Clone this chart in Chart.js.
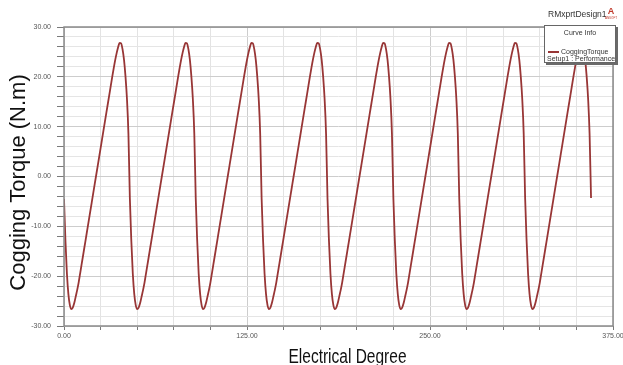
<!DOCTYPE html>
<html>
<head>
<meta charset="utf-8">
<script src="https://cdn.jsdelivr.net/npm/chart.js@4/dist/chart.umd.min.js"></script>
<style>
  html, body { margin: 0; padding: 0; background: #fff; }
  canvas { display: block; }
</style>
</head>
<body>
<canvas id="chart" width="623" height="365"></canvas>
<script>
// 电角度 0..360，每 1° 一个采样
const DEG_STEP = 1;

// 齿槽转矩 (N.m)，按图读取，每行一个 45° 周期
const torque = [
  -4.5, -13.0, -19.5, -23.6, -25.8, -26.6, -26.3, -25.4, -24.1, -22.8, -21.3, -19.5, -17.7, -15.9, -14.1, -12.3, -10.5, -8.7, -6.9, -5.1, -3.3, -1.5, 0.3, 2.1, 3.9, 5.7, 7.5, 9.3, 11.1, 12.9, 14.7, 16.5, 18.3, 20.1, 21.8, 23.4, 24.8, 26.0, 26.8, 26.7, 25.5, 23.4, 20.1, 15.6, 8.6,
  -4.5, -13.0, -19.5, -23.6, -25.8, -26.6, -26.3, -25.4, -24.1, -22.8, -21.3, -19.5, -17.7, -15.9, -14.1, -12.3, -10.5, -8.7, -6.9, -5.1, -3.3, -1.5, 0.3, 2.1, 3.9, 5.7, 7.5, 9.3, 11.1, 12.9, 14.7, 16.5, 18.3, 20.1, 21.8, 23.4, 24.8, 26.0, 26.8, 26.7, 25.5, 23.4, 20.1, 15.6, 8.6,
  -4.5, -13.0, -19.5, -23.6, -25.8, -26.6, -26.3, -25.4, -24.1, -22.8, -21.3, -19.5, -17.7, -15.9, -14.1, -12.3, -10.5, -8.7, -6.9, -5.1, -3.3, -1.5, 0.3, 2.1, 3.9, 5.7, 7.5, 9.3, 11.1, 12.9, 14.7, 16.5, 18.3, 20.1, 21.8, 23.4, 24.8, 26.0, 26.8, 26.7, 25.5, 23.4, 20.1, 15.6, 8.6,
  -4.5, -13.0, -19.5, -23.6, -25.8, -26.6, -26.3, -25.4, -24.1, -22.8, -21.3, -19.5, -17.7, -15.9, -14.1, -12.3, -10.5, -8.7, -6.9, -5.1, -3.3, -1.5, 0.3, 2.1, 3.9, 5.7, 7.5, 9.3, 11.1, 12.9, 14.7, 16.5, 18.3, 20.1, 21.8, 23.4, 24.8, 26.0, 26.8, 26.7, 25.5, 23.4, 20.1, 15.6, 8.6,
  -4.5, -13.0, -19.5, -23.6, -25.8, -26.6, -26.3, -25.4, -24.1, -22.8, -21.3, -19.5, -17.7, -15.9, -14.1, -12.3, -10.5, -8.7, -6.9, -5.1, -3.3, -1.5, 0.3, 2.1, 3.9, 5.7, 7.5, 9.3, 11.1, 12.9, 14.7, 16.5, 18.3, 20.1, 21.8, 23.4, 24.8, 26.0, 26.8, 26.7, 25.5, 23.4, 20.1, 15.6, 8.6,
  -4.5, -13.0, -19.5, -23.6, -25.8, -26.6, -26.3, -25.4, -24.1, -22.8, -21.3, -19.5, -17.7, -15.9, -14.1, -12.3, -10.5, -8.7, -6.9, -5.1, -3.3, -1.5, 0.3, 2.1, 3.9, 5.7, 7.5, 9.3, 11.1, 12.9, 14.7, 16.5, 18.3, 20.1, 21.8, 23.4, 24.8, 26.0, 26.8, 26.7, 25.5, 23.4, 20.1, 15.6, 8.6,
  -4.5, -13.0, -19.5, -23.6, -25.8, -26.6, -26.3, -25.4, -24.1, -22.8, -21.3, -19.5, -17.7, -15.9, -14.1, -12.3, -10.5, -8.7, -6.9, -5.1, -3.3, -1.5, 0.3, 2.1, 3.9, 5.7, 7.5, 9.3, 11.1, 12.9, 14.7, 16.5, 18.3, 20.1, 21.8, 23.4, 24.8, 26.0, 26.8, 26.7, 25.5, 23.4, 20.1, 15.6, 8.6,
  -4.5, -13.0, -19.5, -23.6, -25.8, -26.6, -26.3, -25.4, -24.1, -22.8, -21.3, -19.5, -17.7, -15.9, -14.1, -12.3, -10.5, -8.7, -6.9, -5.1, -3.3, -1.5, 0.3, 2.1, 3.9, 5.7, 7.5, 9.3, 11.1, 12.9, 14.7, 16.5, 18.3, 20.1, 21.8, 23.4, 24.8, 26.0, 26.8, 26.7, 25.5, 23.4, 20.1, 15.6, 8.6,
  -4.3,
];

const degrees = torque.map((_, i) => i * DEG_STEP);

const X_MIN = 0, X_MAX = 375, X_STEP = 25, X_LABEL_EVERY = 125;
const Y_MIN = -30, Y_MAX = 30, Y_STEP = 2, Y_LABEL_EVERY = 10;

const X_TITLE = "Electrical Degree";
const Y_TITLE = "Cogging Torque (N.m)";
const DESIGN_NAME = "RMxprtDesign1";
const LEGEND_HEAD = "Curve Info";
const SERIES_NAME = "CoggingTorque";
const SERIES_SUB = "Setup1 : Performance";

const FONT = "'Liberation Sans', Arial, sans-serif";
const LINE_COLOR = "#983636";

/** 外框 + 轴标题 + 右上角图例 */
const decorations = {
  id: "decorations",
  afterDraw(chart) {
    const { ctx, chartArea: a } = chart;
    ctx.save();

    // plot frame
    ctx.strokeStyle = "#8a8a8a";
    ctx.lineWidth = 1.5;
    ctx.strokeRect(a.left, a.top, a.right - a.left, a.bottom - a.top);

    // y title
    ctx.fillStyle = "#111";
    ctx.save();
    ctx.translate(25, (a.top + a.bottom) / 2 + 6);
    ctx.rotate(-Math.PI / 2);
    ctx.font = `22px ${FONT}`;
    ctx.textAlign = "center";
    ctx.textBaseline = "alphabetic";
    ctx.fillText(Y_TITLE, 0, 0);
    ctx.restore();

    // x title (原图横向被压缩)
    ctx.save();
    ctx.translate(347.5, 363);
    ctx.scale(0.775, 1);
    ctx.font = `20px ${FONT}`;
    ctx.textAlign = "center";
    ctx.textBaseline = "alphabetic";
    ctx.fillText(X_TITLE, 0, 0);
    ctx.restore();

    // design name + logo
    ctx.font = `8.5px ${FONT}`;
    ctx.fillStyle = "#333";
    ctx.textAlign = "left";
    ctx.textBaseline = "middle";
    ctx.fillText(DESIGN_NAME, 548, 15);
    ctx.fillStyle = "#c0392b";
    ctx.font = `bold 9px ${FONT}`;
    ctx.textAlign = "center";
    ctx.fillText("A", 611, 12);
    ctx.font = `3px ${FONT}`;
    ctx.fillText("ANSOFT", 611, 18);

    // legend box
    const bx = 544, by = 25, bw = 72, bh = 38;
    ctx.fillStyle = "#6a6a6a";
    ctx.fillRect(bx + 2, by + 2, bw, bh);
    ctx.fillStyle = "#fff";
    ctx.fillRect(bx, by, bw, bh);
    ctx.strokeStyle = "#666";
    ctx.lineWidth = 1;
    ctx.strokeRect(bx + 0.5, by + 0.5, bw - 1, bh - 1);

    ctx.fillStyle = "#333";
    ctx.font = `7px ${FONT}`;
    ctx.textAlign = "center";
    ctx.fillText(LEGEND_HEAD, bx + bw / 2, by + 8);

    ctx.strokeStyle = LINE_COLOR;
    ctx.lineWidth = 2;
    ctx.beginPath();
    ctx.moveTo(bx + 4, by + 27);
    ctx.lineTo(bx + 15, by + 27);
    ctx.stroke();

    ctx.fillStyle = "#333";
    ctx.textAlign = "left";
    ctx.fillText(SERIES_NAME, bx + 17, by + 27);
    ctx.fillText(SERIES_SUB, bx + 3, by + 34);

    ctx.restore();
  },
};

const ctx = document.getElementById("chart").getContext("2d");

new Chart(ctx, {
  type: "line",
  data: {
    datasets: [
      {
        label: SERIES_NAME,
        data: degrees.map((x, i) => ({ x, y: torque[i] })),
        borderColor: LINE_COLOR,
        backgroundColor: "transparent",
        borderWidth: 1.8,
        pointRadius: 0,
        fill: false,
        cubicInterpolationMode: "monotone",
      },
    ],
  },
  options: {
    responsive: false,
    animation: false,
    layout: { padding: { top: 27, right: 10, left: 0, bottom: 0 } },
    plugins: {
      legend: { display: false },
      tooltip: { enabled: false },
    },
    scales: {
      x: {
        type: "linear",
        min: X_MIN,
        max: X_MAX,
        border: { display: false },
        grid: {
          color: (c) => (c.tick && c.tick.value % X_LABEL_EVERY === 0 ? "#cdcdcd" : "#e3e3e3"),
          tickColor: "#7a7a7a",
          tickLength: 4,
        },
        ticks: {
          stepSize: X_STEP,
          maxTicksLimit: 100,
          autoSkip: false,
          maxRotation: 0,
          padding: 2,
          color: "#555",
          font: { family: FONT, size: 7 },
          callback: (v) => (v % X_LABEL_EVERY === 0 ? v.toFixed(2) : ""),
        },
        afterFit(s) {
          s.height = 39;
          s.paddingLeft = 0;
          s.paddingRight = 0;
        },
      },
      y: {
        type: "linear",
        min: Y_MIN,
        max: Y_MAX,
        border: { display: false },
        grid: {
          color: (c) => (c.tick && c.tick.value % Y_LABEL_EVERY === 0 ? "#cdcdcd" : "#e5e5e5"),
          tickColor: "#7a7a7a",
          tickLength: 7,
        },
        ticks: {
          stepSize: Y_STEP,
          maxTicksLimit: 100,
          autoSkip: false,
          padding: 6,
          color: "#555",
          font: { family: FONT, size: 7 },
          callback: (v) => (v % Y_LABEL_EVERY === 0 ? v.toFixed(2) : ""),
        },
        afterFit(s) {
          s.width = 64;
          s.paddingTop = 0;
          s.paddingBottom = 0;
        },
      },
    },
  },
  plugins: [decorations],
});
</script>
</body>
</html>
